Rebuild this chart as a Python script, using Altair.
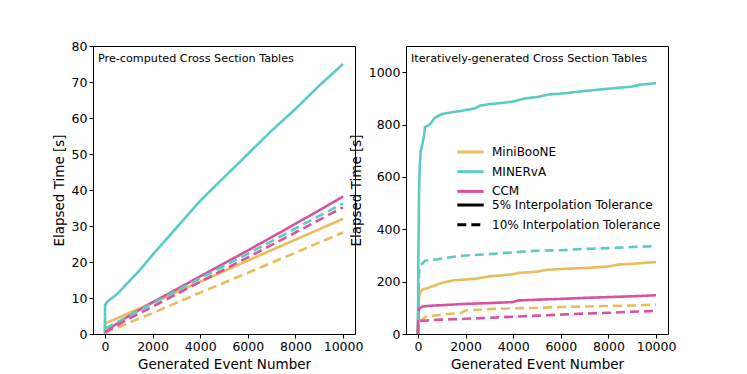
import altair as alt
import pandas as pd

# ---------------- data ----------------
series_names = ["MiniBooNE", "MINERvA", "CCM"]
tol_names = ["5% Interpolation Tolerance", "10% Interpolation Tolerance"]
series_colors = ["#E9BC5C", "#5CCBC2", "#D8529F"]

x_ticks = [0, 2000, 4000, 6000, 8000, 10000]
left_y_ticks = [0, 10, 20, 30, 40, 50, 60, 70, 80]
right_y_ticks = [0, 200, 400, 600, 800, 1000]

# Pre-computed cross section tables (left)
pre_mb5_x = [0, 10, 500, 1000, 2000, 4000, 6000, 8000, 10000]
pre_mb5_y = [0.5, 3.0, 4.3, 5.8, 8.7, 14.5, 20.4, 26.2, 32.0]
pre_mb10_x = [0, 1000, 2000, 4000, 6000, 8000, 10000]
pre_mb10_y = [0.3, 3.1, 5.8, 11.5, 17.0, 22.6, 28.2]
pre_mn5_x = [0, 5, 100, 500, 1000, 1500, 2000, 3000, 4000, 5000, 6000, 7000, 8000, 9000, 10000]
pre_mn5_y = [0.0, 8.0, 9.0, 11.0, 14.5, 18.0, 22.0, 29.5, 37.0, 43.5, 50.0, 56.5, 62.5, 69.0, 75.0]
pre_mn10_x = [0, 1000, 2000, 4000, 6000, 8000, 10000]
pre_mn10_y = [1.5, 5.0, 8.5, 15.5, 22.3, 29.3, 36.3]
pre_ccm5_x = [0, 300, 1000, 2000, 4000, 6000, 8000, 10000]
pre_ccm5_y = [0.3, 2.0, 5.0, 8.8, 16.0, 23.2, 30.6, 38.2]
pre_ccm10_x = [0, 1000, 2000, 4000, 6000, 8000, 10000]
pre_ccm10_y = [0.5, 4.2, 7.6, 14.5, 21.3, 28.2, 35.2]

# Iteratively-generated cross section tables (right)
it_mb5_x = [0, 20, 50, 100, 200, 400, 600, 800, 1000, 1500, 2000, 2500, 3000, 4000, 4200, 5000, 5400, 6000, 7000, 8000, 8500, 9000, 10000]
it_mb5_y = [0, 100, 140, 160, 170, 175, 182, 188, 195, 205, 208, 212, 220, 228, 233, 238, 245, 248, 252, 258, 266, 268, 275]
it_mb10_x = [0, 20, 200, 300, 800, 1500, 1800, 2000, 3000, 4000, 5000, 6000, 7000, 8000, 9000, 10000]
it_mb10_y = [0, 50, 55, 65, 72, 78, 80, 90, 95, 98, 100, 103, 105, 107, 109, 112]
it_mn5_x = [0, 20, 50, 80, 120, 200, 260, 300, 500, 700, 1000, 1500, 1800, 2400, 2600, 3000, 3500, 4000, 4500, 5000, 5500, 6000, 7000, 8000, 9000, 9300, 10000]
it_mn5_y = [0, 300, 550, 650, 700, 730, 760, 790, 800, 825, 840, 848, 852, 862, 872, 878, 882, 888, 900, 905, 915, 918, 928, 937, 945, 952, 958]
it_mn10_x = [0, 20, 60, 200, 300, 800, 1500, 2000, 3000, 4000, 5000, 6000, 7000, 8000, 9000, 10000]
it_mn10_y = [0, 150, 260, 270, 280, 285, 295, 300, 305, 312, 318, 320, 325, 328, 332, 336]
it_ccm5_x = [0, 20, 50, 200, 500, 1000, 2000, 3000, 4000, 4200, 5000, 6000, 7000, 8000, 9000, 10000]
it_ccm5_y = [0, 80, 98, 105, 108, 110, 115, 118, 122, 128, 131, 134, 138, 141, 144, 148]
it_ccm10_x = [0, 20, 100, 1000, 2000, 3000, 4000, 5000, 6000, 7000, 8000, 9000, 10000]
it_ccm10_y = [0, 45, 50, 55, 58, 62, 66, 70, 74, 78, 81, 85, 88]


def build(items):
    rows = []
    for order, (name, tol, xs, ys) in enumerate(items):
        for i, (x, y) in enumerate(zip(xs, ys)):
            rows.append({"series": name, "tol": tol, "x": x, "y": y,
                         "key": f"{name}-{tol}", "grp": order, "i": i})
    return pd.DataFrame(rows)


left_df = build([
    ("MiniBooNE", tol_names[0], pre_mb5_x, pre_mb5_y),
    ("MINERvA", tol_names[0], pre_mn5_x, pre_mn5_y),
    ("CCM", tol_names[0], pre_ccm5_x, pre_ccm5_y),
    ("MiniBooNE", tol_names[1], pre_mb10_x, pre_mb10_y),
    ("MINERvA", tol_names[1], pre_mn10_x, pre_mn10_y),
    ("CCM", tol_names[1], pre_ccm10_x, pre_ccm10_y),
])
right_df = build([
    ("MiniBooNE", tol_names[0], it_mb5_x, it_mb5_y),
    ("MINERvA", tol_names[0], it_mn5_x, it_mn5_y),
    ("CCM", tol_names[0], it_ccm5_x, it_ccm5_y),
    ("MiniBooNE", tol_names[1], it_mb10_x, it_mb10_y),
    ("MINERvA", tol_names[1], it_mn10_x, it_mn10_y),
    ("CCM", tol_names[1], it_ccm10_x, it_ccm10_y),
])

FONT = "DejaVu Sans"
W, H = 262, 288

legend_common = dict(
    title=None, orient="none",
    symbolType="M-2.2,0H2.2", symbolSize=144, symbolStrokeWidth=3,
    labelFontSize=12, labelFont=FONT, labelColor="black", labelLimit=400,
    rowPadding=5.7, labelOffset=14, padding=0,
)

color_enc = alt.Color(
    "series:N",
    scale=alt.Scale(domain=series_names, range=series_colors),
    legend=alt.Legend(legendX=370, legendY=98.5, **legend_common),
)
dash_enc = alt.StrokeDash(
    "tol:N",
    scale=alt.Scale(domain=tol_names, range=[[1, 0], [9, 5]]),
    legend=alt.Legend(legendX=370, legendY=151.5, symbolStrokeColor="black", **legend_common),
)


def panel(df, ydomain, yticks, label):
    x_enc = alt.X("x:Q", scale=alt.Scale(domain=[-500, 10500], nice=False, zero=False),
                  axis=alt.Axis(values=x_ticks, title="Generated Event Number", format="d"))
    y_enc = alt.Y("y:Q", scale=alt.Scale(domain=ydomain, nice=False),
                  axis=alt.Axis(values=yticks, title="Elapsed Time [s]", format="d"))
    lines = alt.Chart(df).mark_line(strokeWidth=2.6, clip=True).encode(
        x=x_enc, y=y_enc, color=color_enc, strokeDash=dash_enc,
        detail="key:N", order="i:Q",
    )
    text = alt.Chart(pd.DataFrame({"t": [label]})).mark_text(
        align="left", baseline="middle", fontSize=11.2, font=FONT, color="black",
    ).encode(x=alt.value(5), y=alt.value(13), text="t:N")
    return alt.layer(lines, text).properties(width=W, height=H)


left = panel(left_df, [0, 80], left_y_ticks, "Pre-computed Cross Section Tables")
right = panel(right_df, [0, 1100], right_y_ticks, "Iteratively-generated Cross Section Tables")

chart = alt.hconcat(left, right, spacing=51, bounds="flush").properties(
    padding={"left": 43, "top": 31, "right": 5, "bottom": 5},
    background="white",
).configure_view(
    stroke="black", strokeWidth=1,
).configure_axis(
    domain=False, grid=False,
    tickColor="black", tickSize=4, tickWidth=1,
    labelColor="black", labelFont=FONT, labelFontSize=12.5, labelPadding=2,
    titleColor="black", titleFont=FONT, titleFontSize=13.5, titleFontWeight="normal",
    titlePadding=5,
)

chart.save("out.html", embed_options={"renderer": "svg", "actions": False})
